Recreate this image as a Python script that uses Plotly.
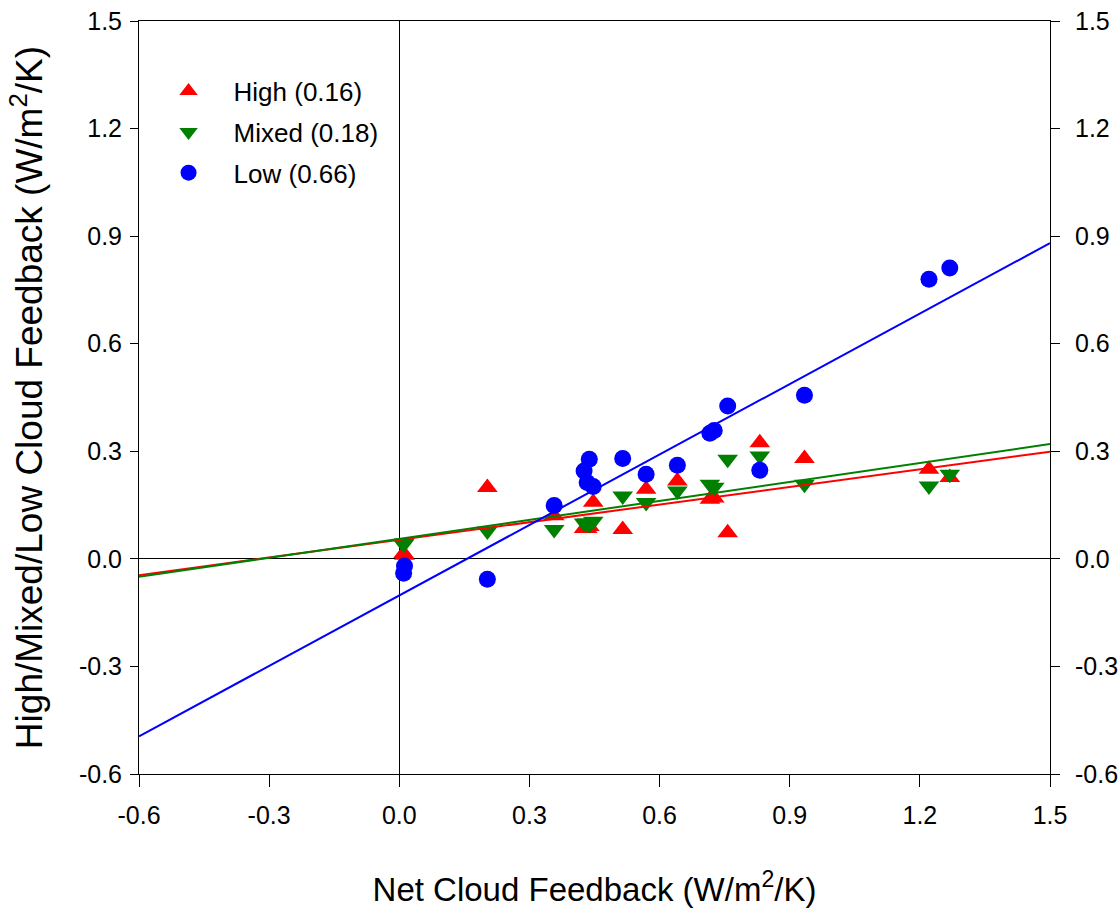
import numpy as np
import plotly.graph_objects as go

# ---- data ----
net_cloud = [0.012, 0.010, 0.203, 0.357, 0.426, 0.433, 0.438, 0.447, 0.515, 0.569,
             0.641, 0.716, 0.726, 0.757, 0.831, 0.934, 1.221, 1.269]
high_fb = [0.010, 0.015, 0.199, 0.120, 0.085, 0.085, 0.090, 0.158, 0.082, 0.194,
           0.217, 0.166, 0.170, 0.073, 0.324, 0.280, 0.250, 0.227]
mixed_fb = [0.045, 0.040, 0.078, 0.082, 0.100, 0.100, 0.095, 0.105, 0.175, 0.157,
            0.189, 0.208, 0.200, 0.278, 0.287, 0.208, 0.203, 0.236]
low_fb = [-0.020, -0.040, -0.057, 0.149, 0.245, 0.213, 0.278, 0.202, 0.280, 0.236,
          0.261, 0.350, 0.358, 0.426, 0.247, 0.456, 0.780, 0.811]

# regression fits as drawn in the reference (slopes match the legend values)
fit_slope = [0.164, 0.176, 0.655]
fit_intercept = [0.053, 0.056, -0.102]

series_names = ["High (0.16)", "Mixed (0.18)", "Low (0.66)"]
series_colors = ["#FF0000", "#008000", "#0000FF"]
series_symbols = ["triangle-up", "triangle-down", "circle"]

axis_range = [-0.6, 1.5]
tick_vals = [-0.6, -0.3, 0.0, 0.3, 0.6, 0.9, 1.2, 1.5]
tick_text = ["-0.6", "-0.3", "0.0", "0.3", "0.6", "0.9", "1.2", "1.5"]

FONT = "Liberation Sans, Arial, sans-serif"

fig = go.Figure()

series = [high_fb, mixed_fb, low_fb]
sizes = [18, 18, 17]
for i, (ys, name, col, sym) in enumerate(zip(series, series_names, series_colors, series_symbols)):
    fig.add_trace(go.Scatter(
        x=net_cloud, y=ys, mode="markers", name=name,
        marker=dict(symbol=sym, size=sizes[i], color=col, line=dict(width=0)),
        legendgroup=f"g{i}",
    ))

# regression lines across the full axis range
xl = np.array(axis_range)
for i, col in enumerate(series_colors):
    fig.add_trace(go.Scatter(
        x=xl, y=fit_slope[i] * xl + fit_intercept[i], mode="lines",
        line=dict(color=col, width=2), showlegend=False, hoverinfo="skip",
    ))

# dummy trace for the right-hand axis
fig.add_trace(go.Scatter(x=[None], y=[None], yaxis="y2", showlegend=False, hoverinfo="skip"))

tickfont = dict(family=FONT, size=25, color="black")

fig.update_layout(
    width=1118, height=908,
    margin=dict(l=139, r=68, t=21, b=134, autoexpand=False),
    paper_bgcolor="white", plot_bgcolor="white",
    font=dict(family=FONT, color="black"),
    showlegend=True,
    legend=dict(
        x=0.005, y=0.938, xanchor="left", yanchor="top",
        bgcolor="rgba(0,0,0,0)", borderwidth=0,
        font=dict(family=FONT, size=26, color="black"),
        traceorder="grouped", tracegroupgap=4, itemwidth=80,
    ),
    xaxis=dict(
        range=axis_range, tickvals=tick_vals, ticktext=tick_text,
        ticks="outside", ticklen=12, tickwidth=1, tickcolor="black",
        showline=True, linecolor="black", linewidth=1, mirror=True,
        showgrid=False, zeroline=True, zerolinecolor="black", zerolinewidth=1,
        tickfont=tickfont, ticklabelstandoff=7, automargin=False,
        title=dict(text="Net Cloud Feedback (W/m<sup>2</sup>/K)",
                   font=dict(family=FONT, size=33, color="black"), standoff=54),
    ),
    yaxis=dict(
        range=axis_range, tickvals=tick_vals, ticktext=tick_text,
        ticks="outside", ticklen=8, tickwidth=1, tickcolor="black",
        showline=True, linecolor="black", linewidth=1, mirror=False,
        showgrid=False, zeroline=True, zerolinecolor="black", zerolinewidth=1,
        tickfont=tickfont, ticklabelstandoff=3, automargin=False,
        title=dict(text="High/Mixed/Low Cloud Feedback (W/m<sup>2</sup>/K)",
                   font=dict(family=FONT, size=37, color="black"), standoff=24),
    ),
    yaxis2=dict(
        range=axis_range, tickvals=tick_vals, ticktext=tick_text,
        overlaying="y", side="right", anchor="x",
        ticks="outside", ticklen=9, tickwidth=1, tickcolor="black",
        showline=True, linecolor="black", linewidth=1,
        showgrid=False, zeroline=False, automargin=False,
        tickfont=tickfont, ticklabelstandoff=10,
    ),
)

fig.write_html("out.html")
